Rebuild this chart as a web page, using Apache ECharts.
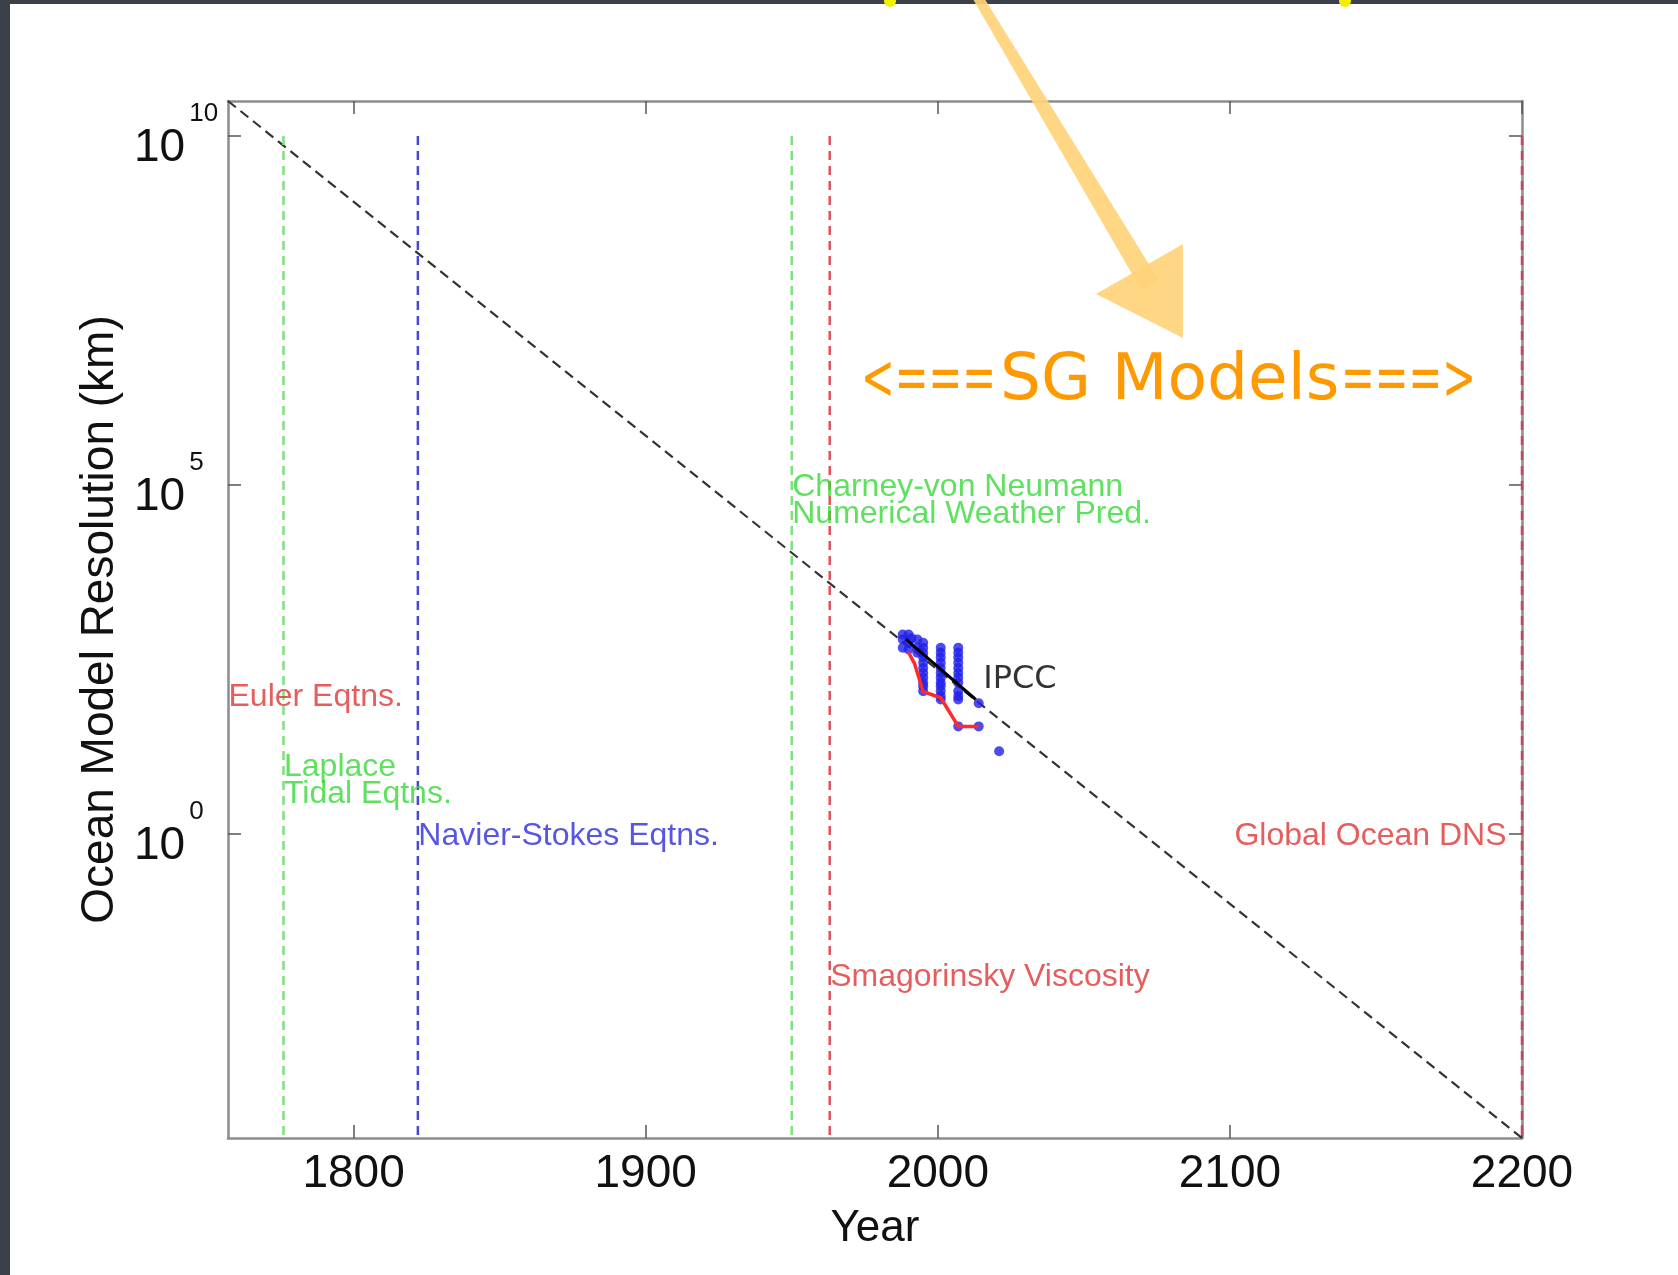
<!DOCTYPE html>
<html>
<head>
<meta charset="utf-8">
<script src="https://cdn.jsdelivr.net/npm/echarts@6/dist/echarts.min.js"></script>
<style>
  html, body { margin: 0; padding: 0; background: #3c4049; }
  #chart { width: 1678px; height: 1275px; }
</style>
</head>
<body>
<div id="chart"></div>
<script>
// ---- axis extents and ticks ----
const yearMin = 1757;
const yearMax = 2200;
const kmMin = Math.pow(10, -4.35);
const kmMax = Math.pow(10, 10.5);
const yearTicks = [1800, 1900, 2000, 2100, 2200];
const kmTicks = [1, 1e5, 1e10];

// ---- milestones in fluid / ocean modelling (vertical dashed lines) ----
const milestoneYears = [1776, 1822, 1950, 1963, 2200];
const milestoneTopKm = 1e10;

// ---- text notes: label, year, resolution (km) ----
const noteTexts = [
  'Euler Eqtns.',
  'Laplace\nTidal Eqtns.',
  'Navier-Stokes Eqtns.',
  'Charney-von Neumann\nNumerical Weather Pred.',
  'Smagorinsky Viscosity',
  'Global Ocean DNS',
  'IPCC'
];
const noteYears = [1757, 1776, 1822, 1950, 1963, 2200, 2014];
const noteKm = [100, 10, 1, 1e5, 0.01, 1, 180];

// ---- IPCC assessment model resolutions ----
const ipccDotYears = [
  1988, 1988, 1988,
  1990, 1990, 1990, 1991,
  1993, 1993, 1993,
  1995, 1995, 1995, 1995, 1995, 1995, 1995, 1995, 1995, 1995, 1995,
  2001, 2001, 2001, 2001, 2001, 2001, 2001, 2001, 2001, 2001, 2001, 2001,
  2007, 2007, 2007, 2007, 2007, 2007, 2007, 2007, 2007, 2007, 2007, 2007,
  2014, 2014,
  2021
];
const ipccDotKm = [
  724, 617, 468,
  724, 550, 442, 640,
  617, 468, 398,
  550, 468, 398, 339, 285, 240, 204, 174, 148, 132, 112,
  468, 398, 339, 285, 240, 204, 174, 148, 132, 112, 95, 85,
  468, 398, 339, 285, 240, 204, 174, 148, 112, 95, 85, 35,
  75, 35,
  15.4
];
// finest resolution per assessment
const finestYears = [1990, 1992, 1995, 2001, 2007, 2014];
const finestKm = [400, 280, 110, 90, 35, 35];
// IPCC trend
const trendYears = [1989, 2013];
const trendKm = [620, 85];

// ---- styling ----
const FONT = '"Liberation Sans", Arial, Helvetica, sans-serif';
const HAND = '"Comic Sans MS", "DejaVu Sans", sans-serif';
const lg = Math.log10;

const milestoneColors = ['#7fe07f', '#4848d4', '#7fe07f', '#e0525e', '#bb4a5e'];
const noteColors = ['#e03434', '#36da36', '#2c2cdc', '#36da36', '#e03434', '#e03434', '#000000'];
const notePos = ['right', 'right', 'right', 'right', 'right', 'left', 'right'];
const noteDist = [0, 0, 0, 0, 0, 15, 4];
const noteShift = [3, 16, 2, 16, 3, 2, 3];
const noteFonts = [FONT, FONT, FONT, FONT, FONT, FONT, HAND];

const chart = echarts.init(document.getElementById('chart'), null, { renderer: 'canvas' });

const axisLineStyle = { color: '#8c8c8c', width: 2.5 };
const tickStyle = { color: '#555555', width: 1.5 };
const yTickVals = kmTicks.map(lg);

function shaftPolygon(x0, y0, x1, y1, w0, w1) {
  const dx = x1 - x0, dy = y1 - y0, L = Math.hypot(dx, dy);
  const nx = -dy / L, ny = dx / L;
  return [
    [x0 + nx * w0 / 2, y0 + ny * w0 / 2],
    [x1 + nx * w1 / 2, y1 + ny * w1 / 2],
    [x1 - nx * w1 / 2, y1 - ny * w1 / 2],
    [x0 - nx * w0 / 2, y0 - ny * w0 / 2]
  ];
}

const series = [];

// diagonal resolution trend across the whole plot
series.push({
  type: 'line',
  data: [[yearMin, lg(kmMax)], [yearMax, lg(kmMin)]],
  symbol: 'none',
  silent: true,
  lineStyle: { color: '#333333', width: 2.2, type: [10, 6] },
  z: 3
});

// milestone lines
milestoneYears.forEach((yr, i) => {
  series.push({
    type: 'line',
    data: [[yr, lg(milestoneTopKm)], [yr, lg(kmMin)]],
    symbol: 'none',
    silent: true,
    clip: false,
    lineStyle: { color: milestoneColors[i], width: 2.5, type: [9, 6] },
    z: 4
  });
});

// IPCC dots
series.push({
  type: 'scatter',
  data: ipccDotYears.map((yr, i) => [yr, lg(ipccDotKm[i])]),
  symbolSize: 10,
  itemStyle: { color: '#2020ea' },
  z: 5
});
// finest resolution line
series.push({
  type: 'line',
  data: finestYears.map((yr, i) => [yr, lg(finestKm[i])]),
  symbol: 'none',
  lineStyle: { color: '#ff2a2a', width: 3.5 },
  z: 6
});
// IPCC trend line
series.push({
  type: 'line',
  data: trendYears.map((yr, i) => [yr, lg(trendKm[i])]),
  symbol: 'none',
  lineStyle: { color: '#000000', width: 3 },
  z: 7
});

// text notes
series.push({
  type: 'scatter',
  symbolSize: 1,
  clip: false,
  silent: true,
  itemStyle: { color: 'rgba(0,0,0,0)' },
  z: 8,
  data: noteTexts.map((t, i) => ({
    value: [noteYears[i], lg(noteKm[i])],
    label: {
      show: true,
      formatter: t,
      position: notePos[i],
      distance: noteDist[i],
      offset: [0, noteShift[i]],
      color: noteColors[i],
      fontFamily: noteFonts[i],
      fontSize: 32,
      lineHeight: 27
    }
  }))
});

const option = {
  animation: false,
  backgroundColor: '#3c4049',
  grid: { left: 228, right: 156, top: 101, bottom: 137, containLabel: false, outerBoundsMode: 'none' },
  xAxis: [
    {
      type: 'value', min: yearMin, max: yearMax, position: 'bottom',
      axisLine: { show: true, onZero: false, lineStyle: axisLineStyle },
      axisTick: { show: true, inside: true, length: 13, customValues: yearTicks, lineStyle: tickStyle },
      axisLabel: { show: true, customValues: yearTicks, margin: 13, color: '#111', fontSize: 46, fontFamily: FONT,
        formatter: v => String(v) },
      splitLine: { show: false },
      name: 'Year', nameLocation: 'middle', nameGap: 69,
      nameTextStyle: { color: '#111', fontSize: 44, fontFamily: FONT }
    },
    {
      type: 'value', min: yearMin, max: yearMax, position: 'top',
      axisLine: { show: true, onZero: false, lineStyle: axisLineStyle },
      axisTick: { show: true, inside: true, length: 13, customValues: yearTicks, lineStyle: tickStyle },
      axisLabel: { show: false },
      splitLine: { show: false }
    }
  ],
  yAxis: [
    {
      type: 'value', min: lg(kmMin), max: lg(kmMax), position: 'left',
      axisLine: { show: true, onZero: false, lineStyle: axisLineStyle },
      axisTick: { show: true, inside: true, length: 13, customValues: yTickVals, lineStyle: tickStyle },
      axisLabel: {
        show: true, customValues: yTickVals, align: 'left', margin: 94,
        formatter: v => '{b|10}{e|' + Math.round(v) + '}',
        rich: {
          b: { fontSize: 46, fontFamily: FONT, color: '#111', lineHeight: 70, verticalAlign: 'bottom' },
          e: { fontSize: 26, fontFamily: FONT, color: '#111', lineHeight: 22, verticalAlign: 'top', padding: [0, 0, 0, 4] }
        }
      },
      splitLine: { show: false },
      name: 'Ocean Model Resolution (km)', nameLocation: 'middle', nameGap: 100,
      nameTextStyle: { color: '#111', fontSize: 46, fontFamily: FONT }
    },
    {
      type: 'value', min: lg(kmMin), max: lg(kmMax), position: 'right',
      axisLine: { show: true, onZero: false, lineStyle: axisLineStyle },
      axisTick: { show: true, inside: true, length: 13, customValues: yTickVals, lineStyle: tickStyle },
      axisLabel: { show: false },
      splitLine: { show: false }
    }
  ],
  series: series,
  graphic: [
    // white slide panel
    { type: 'rect', left: 10, top: 4, z: -100, silent: true,
      shape: { width: 1668, height: 1271 }, style: { fill: '#ffffff' } },
    // yellow glyph fragments along the top edge
    { type: 'circle', z: 50, silent: true, shape: { cx: 890, cy: 1, r: 6 }, style: { fill: '#f2ee00' } },
    { type: 'circle', z: 50, silent: true, shape: { cx: 1345, cy: 1, r: 6 }, style: { fill: '#f2ee00' } },
    // hand-drawn arrow
    { type: 'polygon', z: 60, silent: true,
      shape: { points: shaftPolygon(977, -4, 1150, 285, 10, 20) },
      style: { fill: '#ffd27a', opacity: 0.92 } },
    { type: 'polygon', z: 60, silent: true,
      shape: { points: [[1183, 244], [1096, 294], [1183, 338]] },
      style: { fill: '#ffd27a', opacity: 0.92 } },
    // SG Models banner
    { type: 'text', z: 60, silent: true, x: 861, y: 382, scaleX: 0.63,
      style: { text: '<===', fill: '#ff9900', font: '64px ' + HAND, textVerticalAlign: 'middle', textAlign: 'left' } },
    { type: 'text', z: 60, silent: true, x: 1000, y: 382, scaleX: 1.01,
      style: { text: 'SG Models', fill: '#ff9900', font: '64px ' + HAND, textVerticalAlign: 'middle', textAlign: 'left' } },
    { type: 'text', z: 60, silent: true, x: 1341, y: 382, scaleX: 0.63,
      style: { text: '===>', fill: '#ff9900', font: '64px ' + HAND, textVerticalAlign: 'middle', textAlign: 'left' } }
  ]
};

chart.setOption(option);
</script>
</body>
</html>
